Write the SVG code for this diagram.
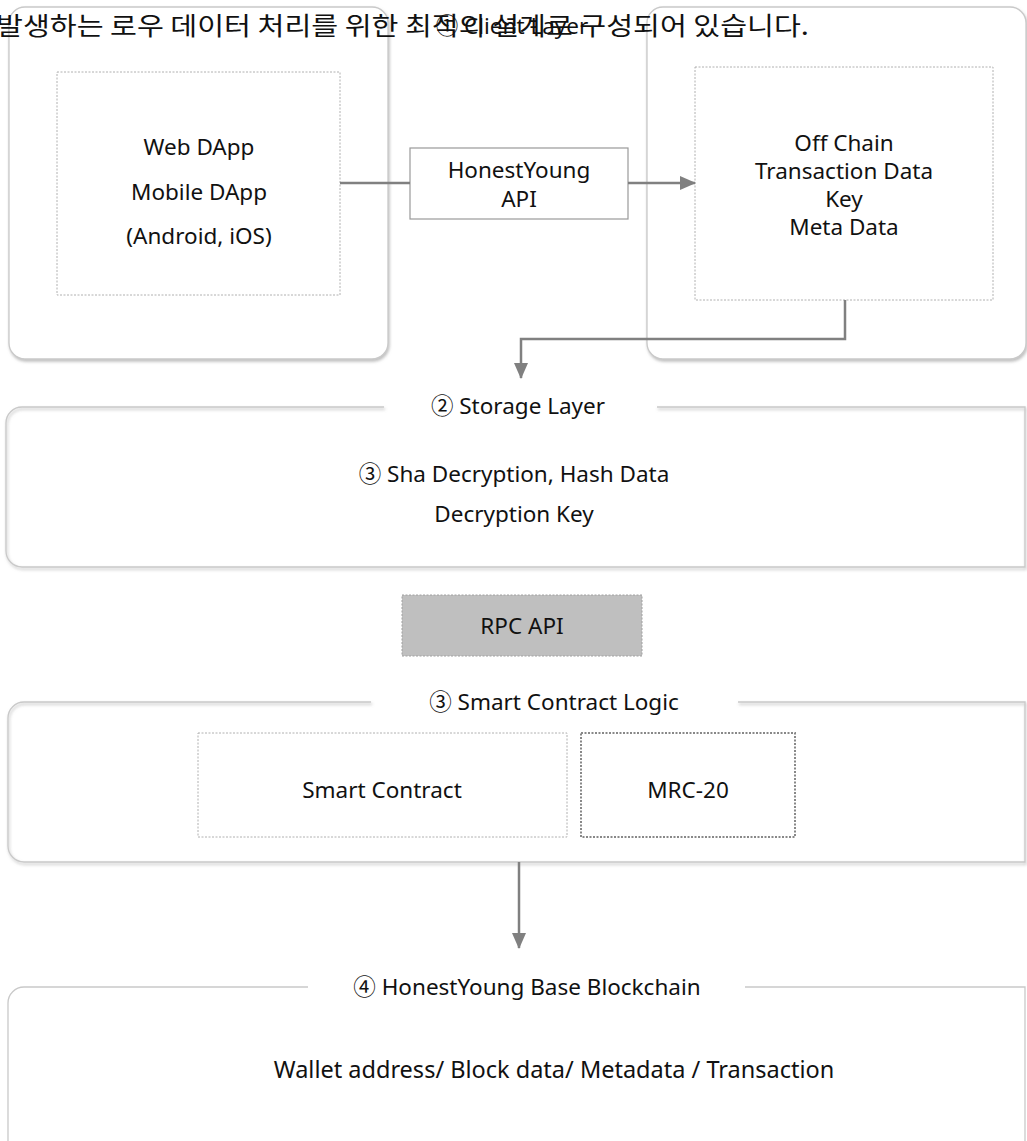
<svg xmlns="http://www.w3.org/2000/svg" width="1027" height="1141" viewBox="0 0 1027 1141">
<style>
text{font-family:"Noto Sans","Noto Sans CJK KR",sans-serif;fill:#111;font-size:22.5px;text-anchor:middle}
.layer{fill:#fff;stroke:#c9c9c9;stroke-width:1.3}
.lframe{fill:none;stroke:#c9c9c9;stroke-width:1.3}
.dash{fill:#fff;stroke:#b0b0b0;stroke-width:1;stroke-dasharray:2 1.5}
.conn{fill:none;stroke:#808080;stroke-width:2.5}
.kor{font-family:"Noto Sans CJK KR","Noto Sans",sans-serif;font-size:25px;text-anchor:start}
</style>
<defs>
<filter id="sh" x="-5%" y="-5%" width="110%" height="115%">
<feDropShadow dx="1" dy="2" stdDeviation="1.5" flood-color="#888" flood-opacity="0.55"/>
</filter>
<marker id="ah" markerWidth="16" markerHeight="14" refX="15" refY="7" orient="auto" markerUnits="userSpaceOnUse">
<path d="M0,0 L16,7 L0,14 Z" fill="#808080"/>
</marker>
</defs>
<rect width="1027" height="1141" fill="#fff"/>

<g id="client-left">
<rect class="layer" x="9" y="7" width="379" height="352" rx="16" filter="url(#sh)"/>
<rect class="dash" x="57" y="72" width="283" height="223"/>
<text x="199" y="155">Web DApp</text>
<text x="199" y="200">Mobile DApp</text>
<text x="199" y="244">(Android, iOS)</text>
</g>

<g id="client-right">
<rect class="layer" x="647" y="7" width="379" height="352" rx="16" filter="url(#sh)"/>
<rect class="dash" x="695" y="67" width="298" height="233"/>
<text x="844" y="151">Off Chain</text>
<text x="844" y="179">Transaction Data</text>
<text x="844" y="207">Key</text>
<text x="844" y="235">Meta Data</text>
</g>

<g id="client-label">
<text x="512" y="34">① Client Layer</text>
</g>

<g id="api">
<rect x="410" y="148" width="218" height="71" fill="#fff" stroke="#999" stroke-width="1.2"/>
<text x="519" y="178">HonestYoung</text>
<text x="519" y="207">API</text>
</g>

<g id="storage">
<path class="lframe" d="M384,407 H22 A16,16 0 0 0 6,423 V551 A16,16 0 0 0 22,567 H1025 V407 H657" filter="url(#sh)"/>
<text x="518" y="414">② Storage Layer</text>
<text x="514" y="482">③ Sha Decryption, Hash Data</text>
<text x="514" y="522">Decryption Key</text>
</g>

<g id="rpc">
<rect x="402" y="595" width="240" height="61" fill="#bfbfbf" stroke="#a0a0a0" stroke-width="1" stroke-dasharray="2 1.5"/>
<text x="522" y="634">RPC API</text>
</g>

<g id="smart">
<path class="lframe" d="M371,702 H24 A16,16 0 0 0 8,718 V846 A16,16 0 0 0 24,862 H1025 V702 H738" filter="url(#sh)"/>
<text x="554" y="710">③ Smart Contract Logic</text>
<rect class="dash" x="198" y="733" width="369" height="104"/>
<text x="382" y="798">Smart Contract</text>
<rect x="581" y="733" width="214" height="104" fill="#fff" stroke="#888" stroke-width="2" stroke-dasharray="2 1.5"/>
<text x="688" y="798">MRC-20</text>
</g>

<g id="blockchain">
<path class="lframe" d="M308,987 H24 A16,16 0 0 0 8,1003 V1150 M1025,1150 V987 H745"/>
<text x="527" y="995">④ HonestYoung Base Blockchain</text>
<text x="554" y="1078" style="font-size:23.5px">Wallet address/ Block data/ Metadata / Transaction</text>
</g>

<g id="connectors">
<path class="conn" d="M340,183 H410"/>
<path class="conn" d="M628,183 H695" marker-end="url(#ah)"/>
<path class="conn" d="M845,300 V339 H521 V378" marker-end="url(#ah)"/>
<path class="conn" d="M519,862 V948" marker-end="url(#ah)"/>
</g>

<g id="caption">
<text class="kor" x="-4" y="35" textLength="813" lengthAdjust="spacingAndGlyphs">발생하는 로우 데이터 처리를 위한 최적의 설계로 구성되어 있습니다.</text>
</g>
</svg>
